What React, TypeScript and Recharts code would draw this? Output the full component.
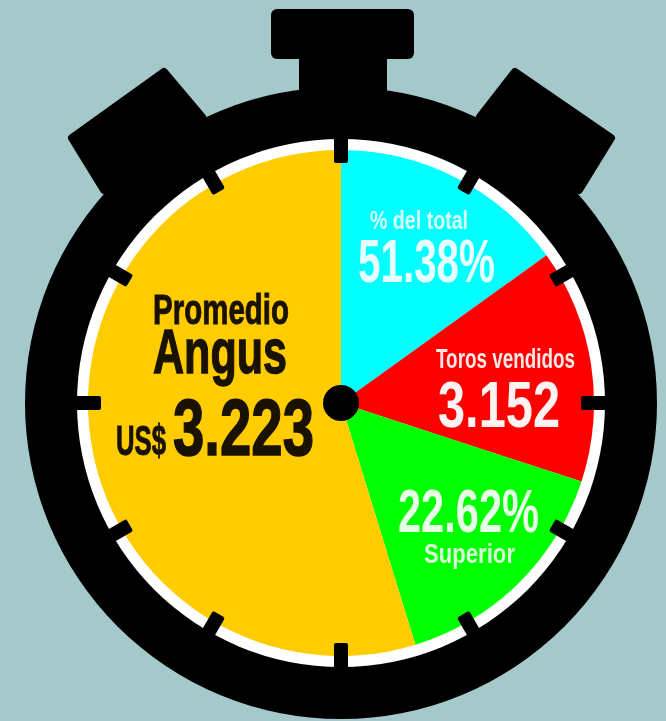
import { PieChart, Pie, Cell } from "recharts";

const sliceNames = ["% del total", "Toros vendidos", "Superior", "Promedio Angus"];
const sliceValues = [54.3, 53.8, 54.8, 197.1];
const sliceColors = ["#00ffff", "#ff0000", "#00ff00", "#ffcc00"];

const tickHours = [0, 1, 2, 3, 4, 5, 6, 7, 8, 9, 10, 11];

const BG = "#a5c8ca";
const CX = 341;
const CY = 403;
const FONT = '"Liberation Sans Narrow", "Liberation Sans", sans-serif';

const pieData = sliceNames.map((name, i) => ({ name, value: sliceValues[i] }));

// text, x start, baseline, width, font size, colour, extra weight
const labels: [string, number, number, number, number, string, number][] = [
  ["Promedio", 153, 324, 136, 43, "#1a1200", 1],
  ["Angus", 153, 373, 134, 63, "#1a1200", 1.4],
  ["US$", 116, 455, 50, 42, "#1a1200", 1],
  ["3.223", 173, 455, 141, 80, "#1a1200", 1.6],
  ["% del total", 370, 229, 98, 26, "#d8ffff", 0],
  ["51.38%", 358, 282, 137, 61, "#e8ffff", 0],
  ["Toros vendidos", 436, 368, 139, 27, "#ffe8e8", 0],
  ["3.152", 438, 427, 122, 65, "#fff4f4", 0],
  ["22.62%", 398, 532, 141, 61, "#e8ffe8", 0],
  ["Superior", 424, 563, 91, 27, "#d8ffd8", 0],
];

function WatchBody() {
  return (
    <g>
      <circle cx={CX} cy={CY} r={316} fill="#000" />
      <rect x={271} y={9} width={143} height={50} rx={6} fill="#000" />
      <rect x={299} y={50} width={88} height={60} fill="#000" />
      <polygon points="164,72 72,138 104,190 202,117" fill="#000" strokeLinejoin="round" stroke="#000" strokeWidth={8} />
      <polygon points="515,72 611,138 579,190 480,117" fill="#000" strokeLinejoin="round" stroke="#000" strokeWidth={8} />
      <circle cx={CX} cy={CY} r={264} fill="#fff" />
    </g>
  );
}

// the pie paints above anything else inside the chart, so ticks and texts sit in their own layer
function DialOverlay() {
  return (
    <svg width={666} height={721} style={{ position: "absolute", left: 0, top: 0 }}>
      {tickHours.map((h) => (
        <rect
          key={h}
          x={CX - 7}
          y={CY - 268}
          width={14}
          height={h % 3 === 0 ? 28 : 24}
          rx={2}
          fill="#000"
          transform={`rotate(${h * 30} ${CX} ${CY})`}
        />
      ))}
      <circle cx={CX} cy={CY} r={18} fill="#000" />
      {labels.map(([text, x, y, w, size, color, weight]) => (
        <text
          key={text}
          x={x}
          y={y}
          textLength={w}
          lengthAdjust="spacingAndGlyphs"
          fontFamily={FONT}
          fontWeight="bold"
          fontSize={size}
          fill={color}
          stroke={weight > 0 ? color : "none"}
          strokeWidth={weight}
        >
          {text}
        </text>
      ))}
    </svg>
  );
}

export default function App() {
  return (
    <div style={{ position: "fixed", inset: 0, background: BG, overflow: "hidden" }}>
      <div style={{ position: "relative", filter: "blur(0.6px)", width: 666, height: 721 }}>
        <PieChart width={666} height={721} margin={{ top: 0, right: 0, bottom: 0, left: 0 }}>
          <WatchBody />
          <Pie
            data={pieData}
            dataKey="value"
            nameKey="name"
            cx={CX}
            cy={CY}
            innerRadius={0}
            outerRadius={253}
            startAngle={90}
            endAngle={-270}
            stroke="none"
            isAnimationActive={false}
          >
            {pieData.map((d, i) => (
              <Cell key={d.name} fill={sliceColors[i]} />
            ))}
          </Pie>
        </PieChart>
        <DialOverlay />
      </div>
    </div>
  );
}
